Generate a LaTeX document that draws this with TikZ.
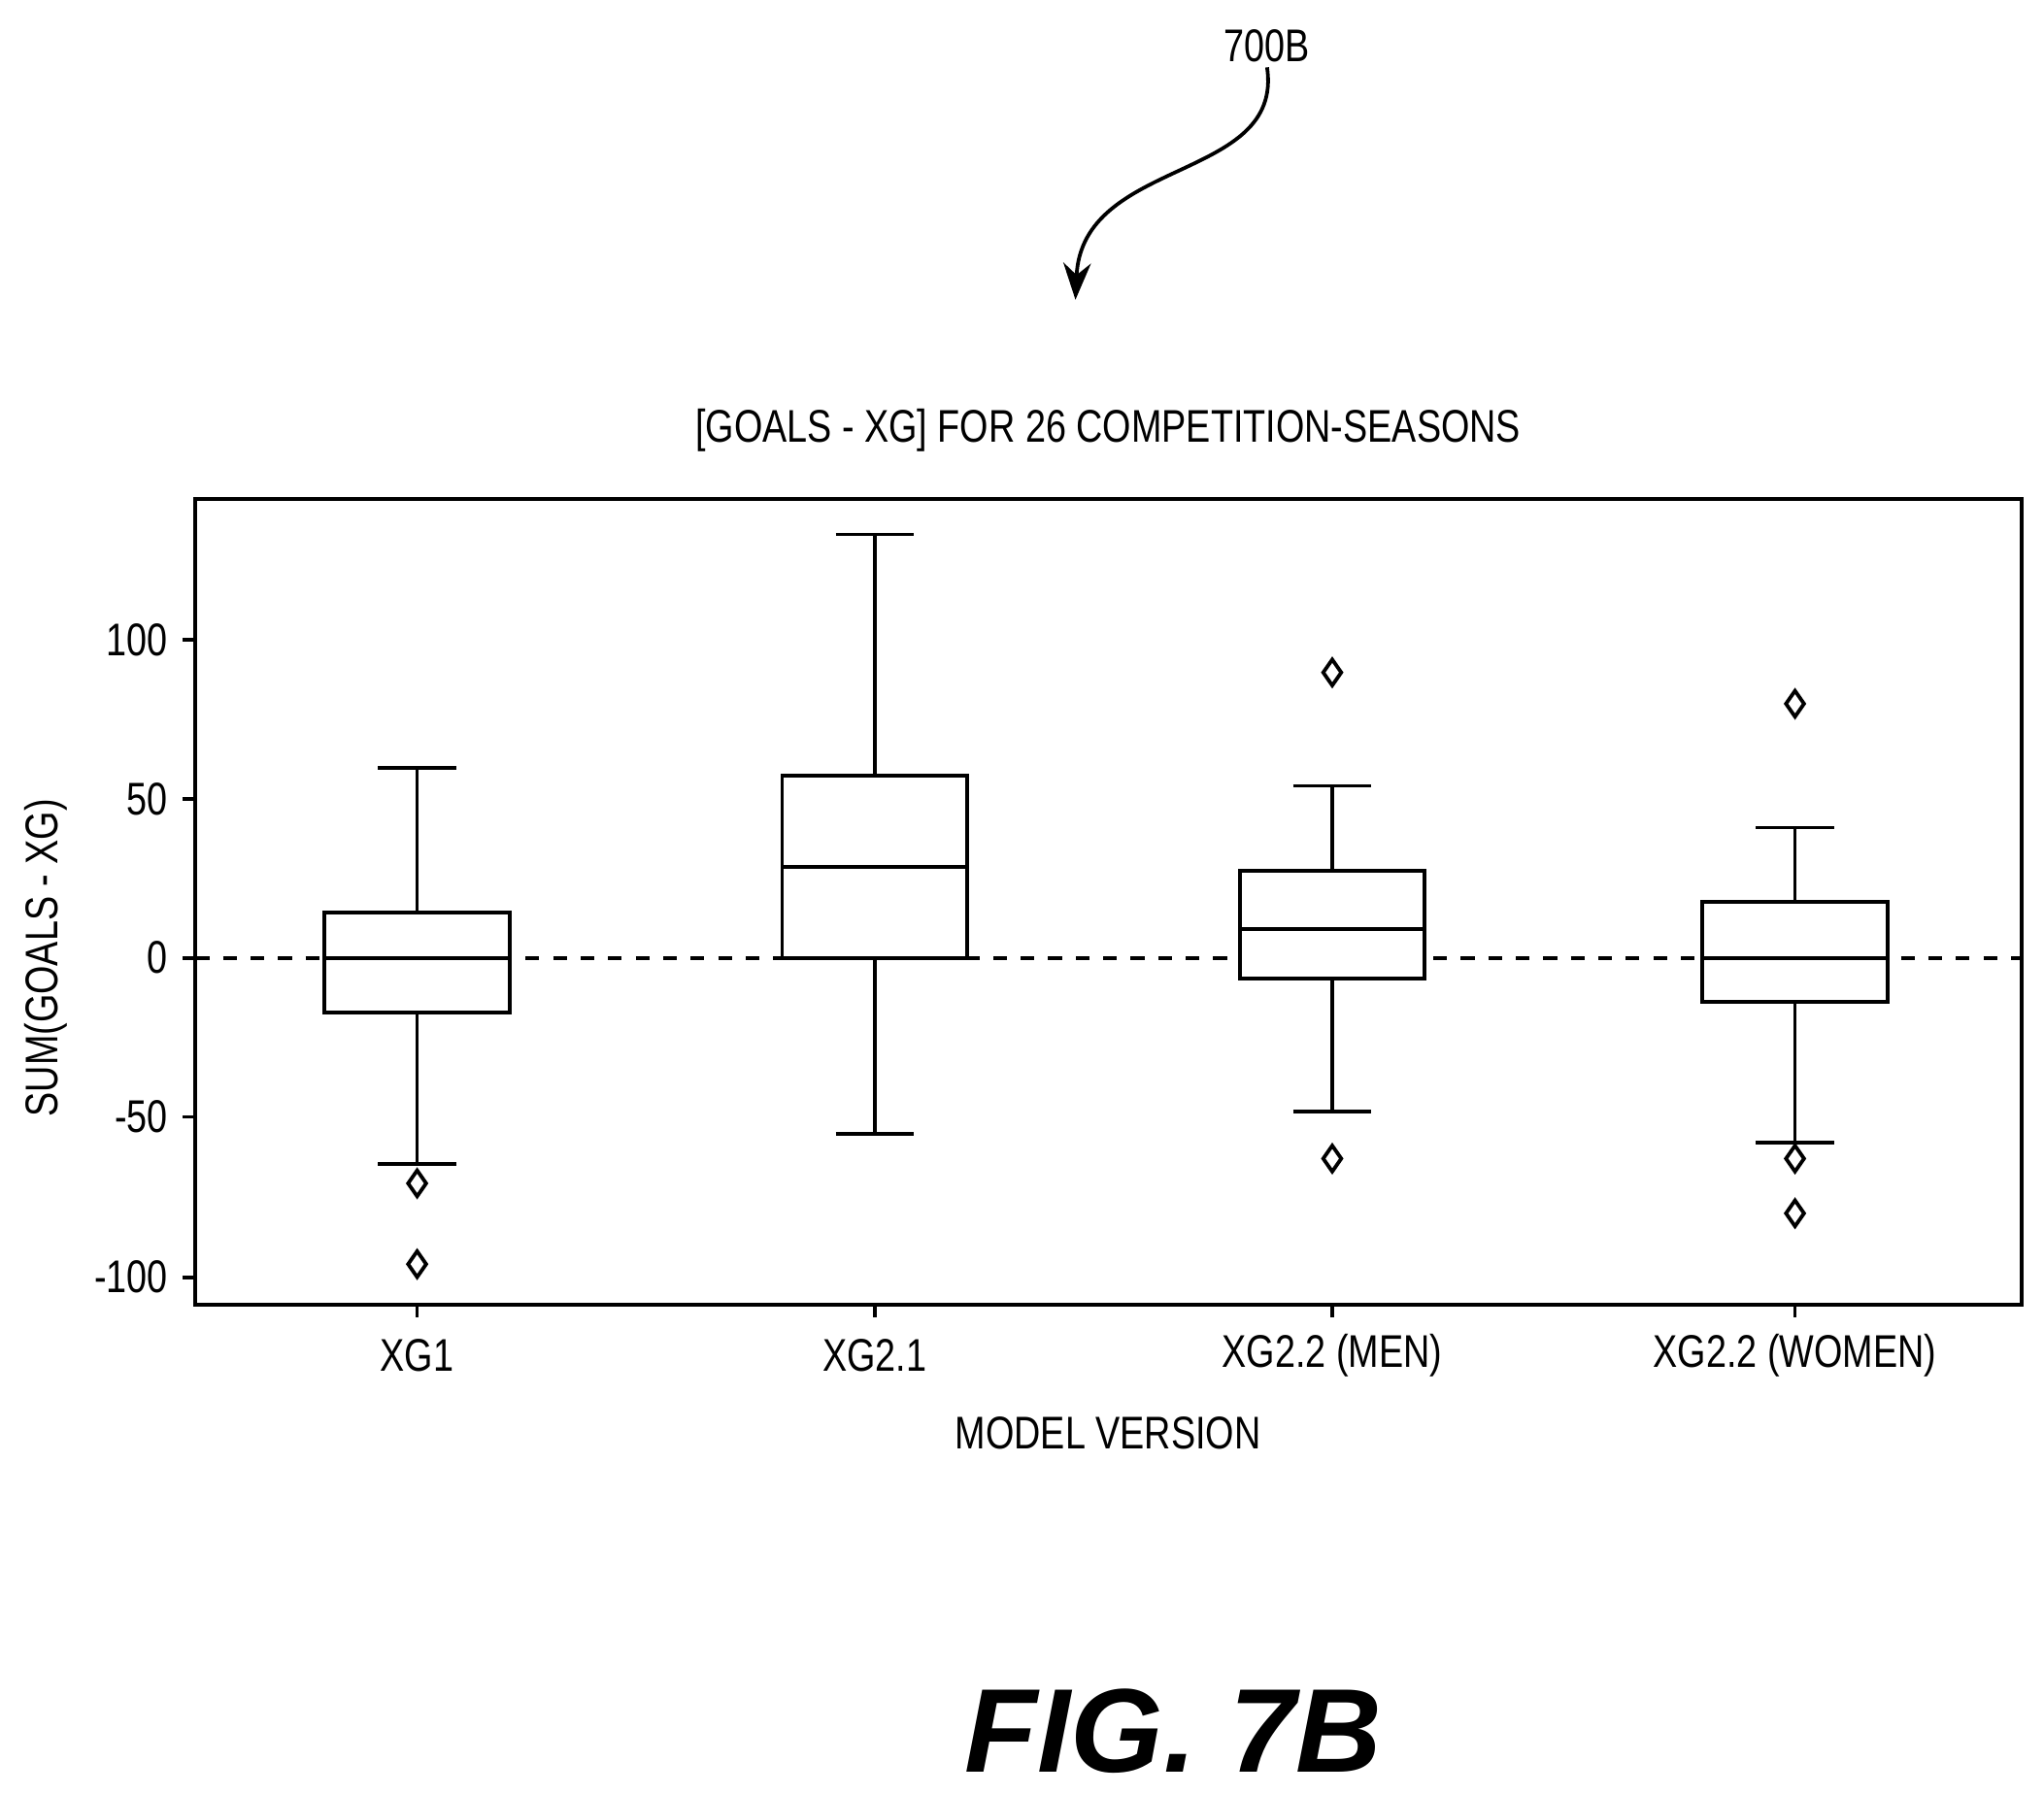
\documentclass[tikz,border=0pt]{standalone}
\usepackage{fontspec}
\setmainfont{Liberation Sans}
\newfontfamily\narrowfont[FakeStretch=0.8]{Liberation Sans}
\usetikzlibrary{shapes.geometric,arrows.meta}
\tikzset{
	lbl/.style={font=\narrowfont\fontsize{10}{12}\selectfont, inner sep=1pt},
	outlier/.style={diamond, draw, thick, minimum width=.15cm, minimum height=.21cm, inner sep=0pt},
	bx/.style={thick}
}
\begin{document}
\begin{tikzpicture}[x={(0.01cm,0)}, y={(0,-0.01cm)}]
	\useasboundingbox (0,0) rectangle (1568,1376);
	\node[lbl] (ref) at (972,35) {700B};
	\coordinate (refend) at (825,230);
	\draw[thick,-{Stealth[length=8pt,width=6pt]}] (ref.south) .. controls (985,140) and (830,120) .. (refend);
	\node[lbl] (title) at (850,330) {[GOALS - XG] FOR 26 COMPETITION-SEASONS};
	\draw[thick] (150,383) rectangle (1551,1001);
	\draw[thick,dashed] (150,735) -- (1551,735);
	% y ticks
	\foreach \v/\y in {100/491,50/613,0/735,-50/857,-100/980} {
		\draw[thick] (140,\y) -- (150,\y);
		\node[lbl, anchor=east] at (133,\y) {\v};
	}
	\node[lbl, rotate=90] (ylab) at (35,735) {SUM(GOALS - XG)};
	% boxes: center/q3/median/q1/top/bottom/label
	\foreach \c/\qa/\m/\qb/\wt/\wb/\name in {320/700/735/777/589/893/XG1, 671/595/665/735/410/870/XG2.1, 1022/668/713/751/603/853/XG2.2 (MEN), 1377/692/735/769/635/877/XG2.2 (WOMEN)} {
		\draw[bx,fill=white] (\c-71,\qa) rectangle (\c+71,\qb);
		\draw[bx] (\c-71,\m) -- (\c+71,\m);
		\draw[bx] (\c,\qa) -- (\c,\wt) (\c-30,\wt) -- (\c+30,\wt);
		\draw[bx] (\c,\qb) -- (\c,\wb) (\c-30,\wb) -- (\c+30,\wb);
		\draw[thick] (\c,1001) -- (\c,1011);
		\node[lbl] at (\c,1040) {\name};
	}
	\foreach \c/\y in {320/908, 320/970, 1022/516, 1022/889, 1377/540, 1377/889, 1377/931}
		\node[outlier] at (\c,\y) {};
	\node[lbl] (xlab) at (850,1100) {MODEL VERSION};
	\node[font=\bfseries\itshape\fontsize{26}{30}\selectfont] (fig) at (900,1328) {FIG. 7B};
\end{tikzpicture}
\end{document}
